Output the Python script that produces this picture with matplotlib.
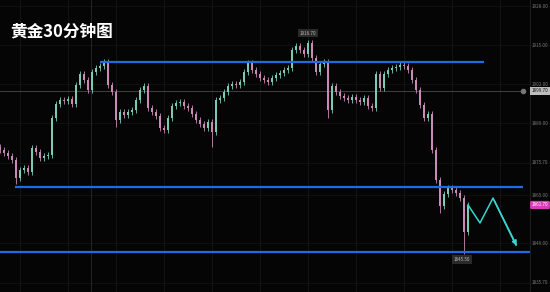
import matplotlib
matplotlib.use("Agg")
import matplotlib.pyplot as plt
from matplotlib.transforms import blended_transform_factory

plt.rcParams['font.family'] = ['Noto Sans CJK SC', 'DejaVu Sans']

# ---------------- data ----------------
title = "黄金30分钟图"
closes = [
    1880.0, 1879.0, 1878.0, 1876.7, 1870.7, 1873.3, 1874.0, 1872.7, 1880.7, 1879.3,
    1877.3, 1878.0, 1878.3, 1890.7, 1895.3, 1896.7, 1896.3, 1897.0, 1895.3, 1901.7,
    1905.3, 1903.3, 1900.0, 1906.0, 1907.3, 1908.0, 1909.3, 1901.7, 1899.3, 1890.0,
    1892.7, 1891.7, 1892.7, 1893.3, 1896.7, 1900.0, 1901.3, 1894.0, 1892.7, 1891.3,
    1887.3, 1886.7, 1890.7, 1894.7, 1895.7, 1896.0, 1894.7, 1894.0, 1892.0, 1890.0,
    1888.7, 1887.3, 1889.3, 1886.0, 1896.7, 1897.3, 1899.3, 1901.3, 1902.0, 1901.7,
    1902.7, 1906.0, 1909.0, 1906.7, 1905.3, 1904.0, 1903.3, 1902.7, 1904.0, 1905.0,
    1905.7, 1906.7, 1907.3, 1913.3, 1914.7, 1913.3, 1912.0, 1915.7, 1910.7, 1906.0,
    1908.7, 1909.3, 1893.3, 1901.3, 1899.3, 1898.0, 1897.3, 1896.7, 1897.7, 1896.7,
    1896.0, 1897.3, 1894.7, 1894.0, 1905.3, 1900.7, 1905.3, 1906.7, 1907.3, 1907.7,
    1908.3, 1908.0, 1906.7, 1903.3, 1900.0, 1895.0, 1890.7, 1892.0, 1880.0, 1870.0,
    1861.3, 1865.3, 1867.3, 1866.7, 1865.7, 1864.0, 1852.7, 1861.7,
]
first_open = 1881.0
spike_low_idx = [4, 29, 53, 82, 110, 116]
spike_low_val = [1868.7, 1887.7, 1881.0, 1890.7, 1859.0, 1845.5]
spike_high_idx = [77]
spike_high_val = [1916.7]

# support / resistance levels (price, start index, end index)
level_prices = [1909.3, 1867.7, 1846.0]
level_starts = [25.0, 3.75, 0.0]
level_ends = [121.0, 130.75, 132.5]

# projected path (index, price)
path_x = [117.0, 120.0, 123.25, 129.5]
path_y = [1861.7, 1855.7, 1864.0, 1847.3]

crosshair_price = 1899.7
crosshair_idx = 22.75
tick_prices = [1928.0, 1915.0, 1902.0, 1889.0, 1875.7, 1865.0, 1849.0, 1835.7]

# ---------------- figure ----------------
W, H = 550, 292
fig = plt.figure(figsize=(W / 100, H / 100), dpi=100)
fig.patch.set_facecolor('#050505')
ax = fig.add_axes([0, 0, 1, 1])
ax.set_facecolor('#050505')
ax.set_xlim(0, 137.5)
ax.set_ylim(1832.7, 1930.0)
ax.axis('off')

# grid
for gx in range(5, 133, 12):
    ax.axvline(gx, color='#161616', lw=0.6, zorder=0)
for tp in tick_prices:
    ax.axhline(tp, color='#121212', lw=0.6, zorder=0)
ax.axvline(132.5, color='#1c1c1c', lw=0.8, zorder=0)

# crosshair
ax.axhline(crosshair_price, xmax=130.75 / 137.5, color='#4a4a4a', lw=0.6, zorder=1)
ax.axvline(crosshair_idx, color='#2a2a2a', lw=0.6, zorder=1)
ax.plot([130.75], [crosshair_price], 'o', ms=3, color='#777777', zorder=5)

# candles
up_c, dn_c = '#7cc9b6', '#c98ab8'
opens = [first_open] + closes[:-1]
lows_extra = dict(zip(spike_low_idx, spike_low_val))
highs_extra = dict(zip(spike_high_idx, spike_high_val))
for i, (o, c) in enumerate(zip(opens, closes)):
    col = up_c if c >= o else dn_c
    lo = min(o, c) - 1.0
    hi = max(o, c) + 1.0
    if i in lows_extra:
        lo = lows_extra[i]
    if i in highs_extra:
        hi = highs_extra[i]
    ax.vlines(i, lo, hi, color=col, lw=0.6, zorder=3)
    b0, b1 = min(o, c), max(o, c)
    if b1 - b0 < 0.3:
        b1 = b0 + 0.3
    ax.bar(i, b1 - b0, bottom=b0, width=0.55, color=col, lw=0, zorder=3)

# levels
for p, s, e in zip(level_prices, level_starts, level_ends):
    ax.plot([s, e], [p, p], color='#1f6be6', lw=1.6, zorder=4, solid_capstyle='butt')

# projected path
ax.plot(path_x[:-1] + [path_x[-1] - 0.5], path_y[:-1] + [path_y[-1] + 1.0],
        color='#35d6cf', lw=1.1, zorder=6)
ax.annotate('', xy=(path_x[-1], path_y[-1]), xytext=(path_x[-2], path_y[-2]),
            arrowprops=dict(arrowstyle='-|>', color='#35d6cf', lw=1.1,
                            mutation_scale=7), zorder=6)

# high / low labels
hi_i = spike_high_idx[0]
ax.text(hi_i, spike_high_val[0] + 2.3, f"{spike_high_val[0]:.2f}", fontsize=3.3,
        color='#bbbbbb', ha='center', va='center',
        bbox=dict(boxstyle='square,pad=0.35', fc='#2a2a2a', ec='none'), zorder=7)
lo_i = spike_low_idx[-1]
ax.text(lo_i - 0.5, spike_low_val[-1] - 2.0, f"{spike_low_val[-1]:.2f}", fontsize=3.3,
        color='#bbbbbb', ha='center', va='center',
        bbox=dict(boxstyle='square,pad=0.35', fc='#2a2a2a', ec='none'), zorder=7)

# price axis labels
tr = blended_transform_factory(ax.transAxes, ax.transData)
for tp in tick_prices:
    ax.text(540 / W, tp, f"{tp:.2f}", transform=tr, fontsize=3.3, color='#777777',
            ha='center', va='center', zorder=7)
ax.text(540 / W, crosshair_price, f"{crosshair_price:.2f}", transform=tr, fontsize=3.3,
        color='#111111', ha='center', va='center',
        bbox=dict(boxstyle='square,pad=0.35', fc='#bdbdbd', ec='none'), zorder=8)
ax.text(540 / W, closes[-1], f"{closes[-1]:.2f}", transform=tr, fontsize=3.3,
        color='#ffffff', ha='center', va='center',
        bbox=dict(boxstyle='round,pad=0.35', fc='#d63fb8', ec='none'), zorder=8)

# title
ax.text(10 / W, 1 - 32 / H, title, transform=ax.transAxes, fontsize=12,
        fontweight='bold', color='#ffffff', ha='left', va='center', zorder=9)

fig.savefig('out.png', dpi=100, facecolor=fig.get_facecolor())
